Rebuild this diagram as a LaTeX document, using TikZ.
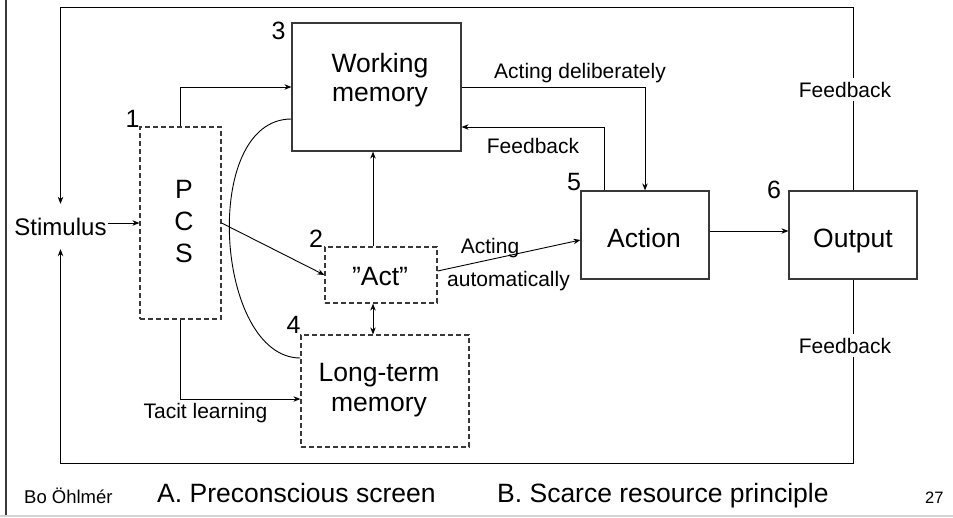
\documentclass[tikz,border=0pt]{standalone}
\usepackage{fontspec}
\setmainfont{Liberation Sans}
\usetikzlibrary{arrows.meta,calc}

\definecolor{boxgray}{HTML}{383838}
\definecolor{rulegray}{HTML}{D4D4D4}

\begin{document}
\begin{tikzpicture}[
  x=1pt, y=-1pt,
  box/.style={draw=boxgray, line width=1.2pt, inner sep=0pt},
  dbox/.style={box, dash pattern=on 5pt off 3pt},
  conn/.style={line width=0.9pt},
  arr/.style={conn, -{Stealth[length=7pt,width=5.5pt]}},
  darr/.style={conn, {Stealth[length=7pt,width=5.5pt]}-{Stealth[length=7pt,width=5.5pt]}},
  lbl/.style={font=\fontsize{21}{25}\selectfont, inner sep=0pt, anchor=base},
  num/.style={font=\fontsize{25}{29}\selectfont, inner sep=0pt, anchor=base},
  big/.style={font=\fontsize{26.5}{31}\selectfont, inner sep=0pt, align=center},
  fb/.style={lbl, fill=white, inner xsep=1pt, inner ysep=4pt, text depth=0pt}
]
\useasboundingbox (0,0) rectangle (953,517);
\fill[white] (0,0) rectangle (953,517);

% slide frame
\draw[boxgray, line width=2.2pt] (6,0) -- (6,517);
\draw[rulegray, line width=1.5pt] (0,516) -- (953,516);

% boxes
\node[dbox, minimum width=81pt,  minimum height=192pt] (pcs)    at (180.5,223) {};
\node[box,  minimum width=169pt, minimum height=128pt] (wm)     at (376.5,87)  {};
\node[dbox, minimum width=112pt, minimum height=56pt]  (act)    at (381,275)   {};
\node[dbox, minimum width=168pt, minimum height=112pt] (ltm)    at (385,391)   {};
\node[box,  minimum width=128pt, minimum height=88pt]  (action) at (645,235)   {};
\node[box,  minimum width=128pt, minimum height=88pt]  (out)    at (853,235)   {};

% box texts
\node[big, font=\fontsize{26.5}{32}\selectfont] (pcst) at (184,221.5) {P\\C\\S};
\node[big, font=\fontsize{26.5}{29.5}\selectfont] (wmt) at (380,80) {Working\\memory};
\node[big, font=\fontsize{26.5}{30}\selectfont] (ltmt) at (379,390) {Long-term\\memory};
\node[big, anchor=base] (actt) at (380,285) {”Act”};
\node[big, anchor=base] (actiont) at (644,247) {Action};
\node[big, anchor=base] (outt) at (853,247) {Output};

% numbers
\node[num] (n1) at (132.5,127) {1};
\node[num] (n2) at (316,247) {2};
\node[num] (n3) at (278.5,39.5) {3};
\node[num] (n4) at (293.5,333) {4};
\node[num] (n5) at (574,190) {5};
\node[num] (n6) at (774,198) {6};

% stimulus
\node[font=\fontsize{24}{28}\selectfont, anchor=base, inner xsep=1pt, inner ysep=14pt,
      text height=17pt, text depth=0pt] (stim) at (60.5,235) {Stimulus};

% loop lines
\coordinate (top) at (0,7);
\coordinate (bot) at (0,463);

% connectors
\draw[arr] (stim.east |- pcs.west) -- (pcs.west);
\draw[arr] (pcs.north) |- (wm.west);
\draw[arr] (pcs.east) -- (act.west);
\draw[arr] (pcs.south) |- ($(ltm.west)+(0,8)$);
\draw[arr] ($(act.north)+(-8,0)$) -- ($(act.north |- wm.south)+(-8,0)$);
\draw[darr] ($(act.south)+(-8,0)$) -- ($(act.south |- ltm.north)+(-8,0)$);
\draw[conn] ($(wm.west)+(0,32)$) .. controls (200,119) and (215,358) .. ($(ltm.west)+(0,-33)$);
\draw[arr] (wm.east) -| (action.north);
\draw[arr] ($(action.north)+(-41,0)$) |- ($(wm.east)+(0,40)$);
\draw[arr] ($(act.east)+(0,-4)$) -- ($(action.west)+(0,5)$);
\draw[arr] ($(action.east)+(0,-4)$) -- ($(out.west)+(0,-4)$);
\draw[arr] (out.north) -- (out.north |- top) -- (stim.north |- top) -- (stim.north);
\draw[arr] (out.south) -- (out.south |- bot) -- (stim.south |- bot) -- (stim.south);

% connector labels
\node[lbl] (l-delib) at (580,78) {Acting deliberately};
\node[lbl] (l-fb1) at (533,153) {Feedback};
\node[lbl] (l-act1) at (490,253) {Acting};
\node[lbl] (l-act2) at (508.5,286) {automatically};
\node[lbl] (l-tacit) at (205.5,418) {Tacit learning};
\node[fb] (l-fb2) at (845,97) {Feedback};
\node[fb] (l-fb3) at (845,353) {Feedback};

% footer
\node[font=\fontsize{18.5}{22}\selectfont, inner sep=0pt, anchor=base west] (author) at (24,503) {Bo Öhlmér};
\node[font=\fontsize{26.5}{31}\selectfont, inner sep=0pt, anchor=base west] (titA) at (157,502) {A. Preconscious screen};
\node[font=\fontsize{26.5}{31}\selectfont, inner sep=0pt, anchor=base west] (titB) at (497,502) {B. Scarce resource principle};
\node[font=\fontsize{16.5}{20}\selectfont, inner sep=0pt, anchor=base west] (page) at (925,503) {27};
\end{tikzpicture}
\end{document}
